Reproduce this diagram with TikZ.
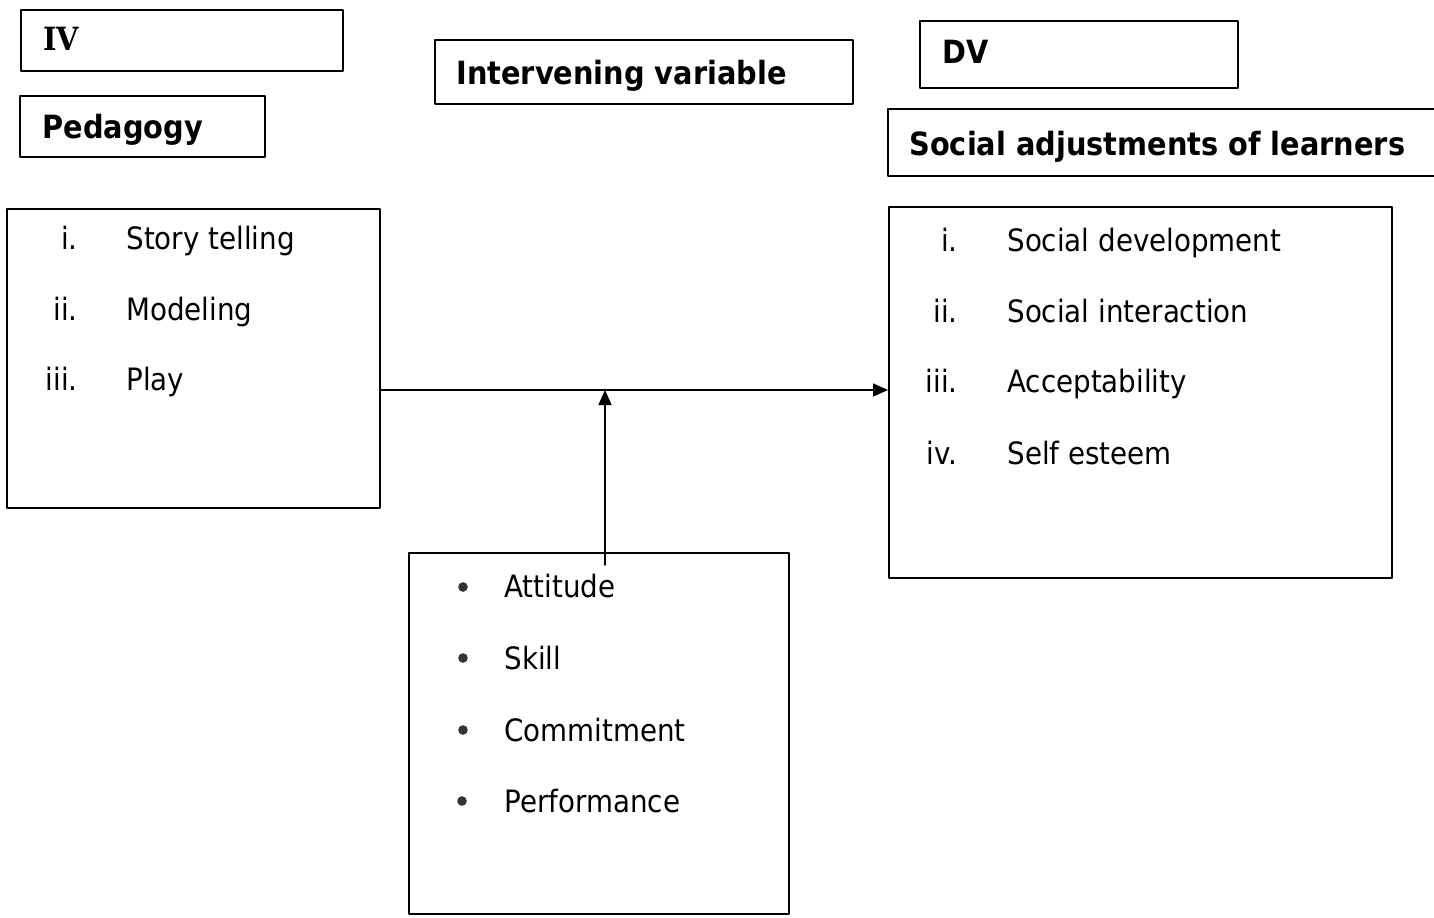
\documentclass[tikz,border=0pt]{standalone}
\usepackage{fontspec}
\setmainfont{DejaVu Sans}[FakeStretch=0.9]
\newfontfamily\ivfont{DejaVu Serif}[FakeStretch=0.9]
\usetikzlibrary{fit,arrows.meta}
\tikzset{
  box/.style={draw, line width=1pt, inner sep=0pt},
  head/.style={anchor=base west, inner sep=0pt, font=\bfseries\fontsize{16}{18}\selectfont},
  item/.style={anchor=base west, inner sep=0pt, font=\fontsize{15.4}{18}\selectfont},
  num/.style={anchor=base east, inner sep=0pt, font=\fontsize{15.4}{18}\selectfont},
  dot/.style={circle, fill=black!80, inner sep=0pt, minimum size=4.8pt},
}
\begin{document}
\begin{tikzpicture}[x=0.5pt,y=-0.5pt,line cap=round,line join=round,>={Triangle[length=7.5pt,width=6.5pt]}]
                \useasboundingbox (0,0) rectangle (1434,917);
                \clip (0,0) rectangle (1434,917);
                % headings
                \node[box, fit={(21,10) (343,71)}] (iv) {};
                \node[head] (ivtext) at (43,50) {\ivfont\bfseries IV};
                \node[box, fit={(20,96) (265,157)}] (ped) {};
                \node[head] (pedtext) at (42,138) {Pedagogy};
                \node[box, fit={(435,40) (853,104)}] (inter) {};
                \node[head] (intertext) at (456,84) {Intervening variable};
                \node[box, fit={(920,21) (1238,88)}] (dv) {};
                \node[head] (dvtext) at (942,63) {DV};
                \node[box, fit={(888,109) (1460,176)}] (soc) {};
                \node[head] (soctext) at (909,155) {Social adjustments of learners};
                % independent variable
                \node[box, fit={(7,209) (380,508)}] (lbox) {};
                \node[num] (l1) at (78,249) {i.};   \node[item] (lt1) at (126,249) {Story telling};
                \node[num] (l2) at (78,320) {ii.};  \node[item] (lt2) at (126,320) {Modeling};
                \node[num] (l3) at (78,390) {iii.}; \node[item] (lt3) at (126,390) {Play};
                % dependent variable
                \node[box, fit={(889,207) (1392,578)}] (rbox) {};
                \node[num] (r1) at (958,251) {i.};   \node[item] (rt1) at (1007,251) {Social development};
                \node[num] (r2) at (958,322) {ii.};  \node[item] (rt2) at (1007,322) {Social interaction};
                \node[num] (r3) at (958,392) {iii.}; \node[item] (rt3) at (1007,392) {Acceptability};
                \node[num] (r4) at (958,464) {iv.};  \node[item] (rt4) at (1007,464) {Self esteem};
                % intervening variable
                \node[box, fit={(409,553) (789,914)}] (mod) {};
                \node[dot] (b1) at (463,587) {}; \node[item] (bt1) at (504,597) {Attitude};
                \node[dot] (b2) at (463,658) {}; \node[item] (bt2) at (504,669) {Skill};
                \node[dot] (b3) at (463,730) {}; \node[item] (bt3) at (504,741) {Commitment};
                \node[dot] (b4) at (462,801) {}; \node[item] (bt4) at (504,812) {Performance};
                % connectors
                \coordinate (join) at (605,390);
                \coordinate (foot) at (605,565);
                \draw[->, line width=0.8pt] (lbox.east |- join) -- (rbox.west |- join);
                \draw[->, line width=0.8pt] (foot) -- (join);
            \end{tikzpicture}
\end{document}
